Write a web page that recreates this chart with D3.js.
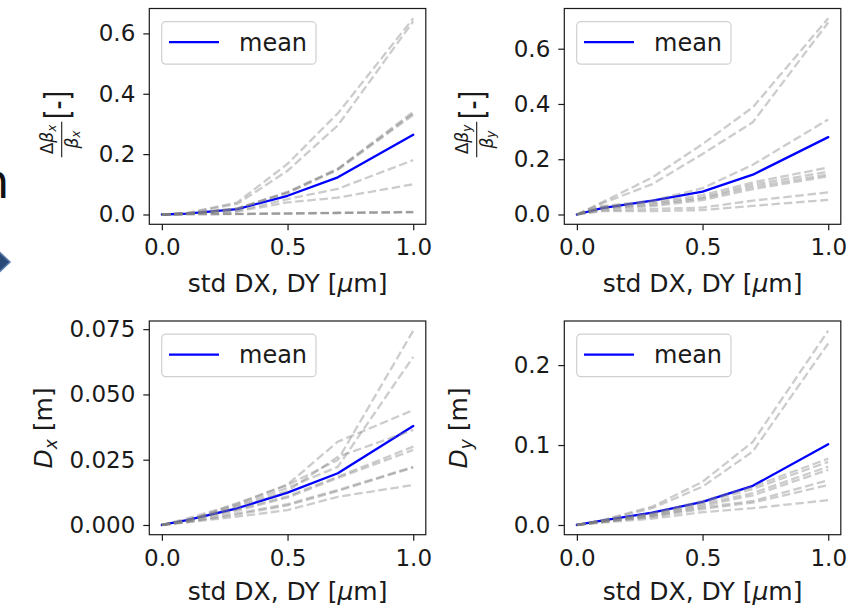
<!DOCTYPE html>
<html>
<head>
<meta charset="utf-8">
<script src="https://cdn.jsdelivr.net/npm/d3@7"></script>
<style>
  body { margin: 0; background: #fff; }
  text { font-family: "DejaVu Sans", sans-serif; fill: #1a1a1a; }
</style>
</head>
<body>
<div id="chart"></div>
<script>
// std of the DX, DY misalignment [um]
const stdX = [0, 0.1, 0.3, 0.5, 0.7, 1.0];

// relative beta beating, horizontal (one row per seed)
const betaXRuns = [
  [0, 0.005, 0.040, 0.168, 0.335, 0.650],
  [0, 0.004, 0.035, 0.145, 0.295, 0.640],
  [0, 0.003, 0.020, 0.075, 0.152, 0.340],
  [0, 0.003, 0.020, 0.073, 0.150, 0.335],
  [0, 0.003, 0.019, 0.071, 0.148, 0.330],
  [0, 0.002, 0.012, 0.051, 0.085, 0.180],
  [0, 0.002, 0.010, 0.040, 0.056, 0.100],
  [0, 0.001, 0.002, 0.004, 0.006, 0.008],
  [0, 0.001, 0.002, 0.003, 0.005, 0.009],
  [0, 0.001, 0.001, 0.003, 0.005, 0.007]
];
const betaXMean = [0, 0.003, 0.018, 0.062, 0.123, 0.264];

// relative beta beating, vertical
const betaYRuns = [
  [0, 0.044, 0.134, 0.255, 0.388, 0.710],
  [0, 0.040, 0.110, 0.219, 0.334, 0.695],
  [0, 0.030, 0.050, 0.095, 0.180, 0.344],
  [0, 0.028, 0.045, 0.070, 0.116, 0.170],
  [0, 0.025, 0.040, 0.062, 0.108, 0.155],
  [0, 0.022, 0.035, 0.058, 0.100, 0.145],
  [0, 0.020, 0.030, 0.052, 0.092, 0.138],
  [0, 0.015, 0.020, 0.025, 0.050, 0.080],
  [0, 0.012, 0.012, 0.016, 0.031, 0.053]
];
const betaYMean = [0, 0.023, 0.050, 0.083, 0.144, 0.280];

// horizontal dispersion [m]
const dispXRuns = [
  [0, 0.0015, 0.0084, 0.0153, 0.0249, 0.0744],
  [0, 0.0014, 0.0075, 0.0142, 0.0223, 0.0644],
  [0, 0.0025, 0.0080, 0.0155, 0.0319, 0.0440],
  [0, 0.0020, 0.0070, 0.0130, 0.0261, 0.0364],
  [0, 0.0018, 0.0060, 0.0110, 0.0185, 0.0300],
  [0, 0.0016, 0.0055, 0.0105, 0.0180, 0.0287],
  [0, 0.0012, 0.0045, 0.0080, 0.0134, 0.0223],
  [0, 0.0011, 0.0040, 0.0075, 0.0130, 0.0220],
  [0, 0.0010, 0.0032, 0.0057, 0.0108, 0.0153]
];
const dispXMean = [0, 0.0019, 0.0064, 0.0124, 0.0198, 0.0379];

// vertical dispersion [m]
const dispYRuns = [
  [0, 0.0060, 0.023, 0.054, 0.104, 0.243],
  [0, 0.0055, 0.021, 0.048, 0.092, 0.227],
  [0, 0.0050, 0.015, 0.030, 0.048, 0.083],
  [0, 0.0050, 0.014, 0.028, 0.045, 0.079],
  [0, 0.0045, 0.013, 0.026, 0.040, 0.073],
  [0, 0.0040, 0.012, 0.024, 0.037, 0.069],
  [0, 0.0040, 0.011, 0.022, 0.030, 0.056],
  [0, 0.0035, 0.010, 0.020, 0.028, 0.050],
  [0, 0.0030, 0.008, 0.016, 0.021, 0.031]
];
const dispYMean = [0, 0.0054, 0.0154, 0.029, 0.049, 0.101];

const xTicks = [0, 0.5, 1.0];
const betaTicks = [0, 0.2, 0.4, 0.6];
const dxTicks = [0, 0.025, 0.05, 0.075];
const dyTicks = [0, 0.1, 0.2];

const W = 853, H = 605;
const svg = d3.select('#chart').append('svg')
    .attr('width', W).attr('height', H);

// bits of the slide that the figure was cut from
svg.append('text').attr('x', -21).attr('y', 198)
   .style('font-size', '48px').style('fill', '#111').text('n');
svg.append('path')
   .attr('d', 'M-6,247 L10,262 L-6,277 Z')
   .attr('fill', '#2c4a78').attr('stroke', '#5b7cae').attr('stroke-width', 1.5);

const panels = [
  {runs: betaXRuns, mean: betaXMean, ticks: betaTicks, fmt: '.1f', col: 0, row: 0, label: 'beta', sub: 'x'},
  {runs: betaYRuns, mean: betaYMean, ticks: betaTicks, fmt: '.1f', col: 1, row: 0, label: 'beta', sub: 'y'},
  {runs: dispXRuns, mean: dispXMean, ticks: dxTicks, fmt: '.3f', col: 0, row: 1, label: 'disp', sub: 'x'},
  {runs: dispYRuns, mean: dispYMean, ticks: dyTicks, fmt: '.1f', col: 1, row: 1, label: 'disp', sub: 'y'}
];

const colLeft = [149.3, 564.3];
const rowTop = [8.5, 321];
const pw = 276.5, ph = [215.8, 213.7];
const xlabelDrop = [67.4, 65.5];

panels.forEach(function(p) {
  const x0 = colLeft[p.col], y0 = rowTop[p.row], h = ph[p.row];
  const g = svg.append('g').attr('transform', 'translate(' + x0 + ',' + y0 + ')');

  // matplotlib style 5% margins
  const all = p.runs.flat().concat(p.mean);
  const lo = d3.min(all), hi = d3.max(all);
  const pad = (hi - lo) * 0.05;

  const xScale = d3.scaleLinear().domain([-0.05, 1.05]).range([0, pw]);
  const yScale = d3.scaleLinear().domain([lo - pad, hi + pad]).range([h, 0]);

  const line = d3.line()
      .x(function(d, i) { return xScale(stdX[i]); })
      .y(function(d) { return yScale(d); });

  g.append('path').datum(p.mean)
   .attr('d', line).attr('fill', 'none')
   .attr('stroke', '#0000ff').attr('stroke-width', 2.3)
   .attr('stroke-linejoin', 'round').attr('stroke-linecap', 'round');

  g.selectAll('.run').data(p.runs).enter().append('path')
   .attr('class', 'run')
   .attr('d', line).attr('fill', 'none')
   .attr('stroke', '#808080').attr('stroke-opacity', 0.4)
   .attr('stroke-width', 2.3).attr('stroke-dasharray', '8.5,3.7');

  // frame
  g.append('rect').attr('width', pw).attr('height', h)
   .attr('fill', 'none').attr('stroke', '#1a1a1a').attr('stroke-width', 1.2);

  const xAxis = d3.axisBottom(xScale).tickValues(xTicks)
      .tickFormat(d3.format('.1f')).tickSize(6).tickPadding(8.5);
  const yAxis = d3.axisLeft(yScale).tickValues(p.ticks)
      .tickFormat(d3.format(p.fmt)).tickSize(6).tickPadding(8);

  const xg = g.append('g').attr('transform', 'translate(0,' + h + ')').call(xAxis);
  const yg = g.append('g').call(yAxis);
  [xg, yg].forEach(function(a) {
    a.select('.domain').remove();
    a.selectAll('line').attr('stroke', '#1a1a1a').attr('stroke-width', 1.2);
    a.selectAll('text').style('font-size', '23px').style('font-family', '"DejaVu Sans", sans-serif')
     .attr('fill', '#1a1a1a');
  });

  // x label
  const xl = g.append('text').attr('x', (xScale(0) + xScale(1)) / 2).attr('y', h + xlabelDrop[p.row])
      .attr('text-anchor', 'middle').style('font-size', '25px');
  xl.append('tspan').text('std DX, DY [');
  xl.append('tspan').style('font-style', 'italic').text('\u03bc');
  xl.append('tspan').text('m]');

  // legend
  const lg = g.append('g').attr('transform', 'translate(12.4,13.2)');
  lg.append('rect').attr('width', 154.3).attr('height', 42.5).attr('rx', 4)
    .attr('fill', '#fff').attr('fill-opacity', 0.8)
    .attr('stroke', '#d0d0d0').attr('stroke-width', 1.2);
  lg.append('line').attr('x1', 7.3).attr('x2', 57.3).attr('y1', 20.5).attr('y2', 20.5)
    .attr('stroke', '#0000ff').attr('stroke-width', 2.3);
  lg.append('text').attr('x', 77.3).attr('y', 29).style('font-size', '24px').text('mean');

  // y label
  if (p.label === 'beta') {
    const yl = svg.append('g')
        .attr('transform', 'translate(' + (x0 - 87.6) + ',139.5) rotate(-90)');
    yl.append('line').attr('x1', -17.8).attr('x2', 17.8).attr('y1', 0).attr('y2', 0)
      .attr('stroke', '#1a1a1a').attr('stroke-width', 1.1);
    const num = yl.append('text').attr('x', 0).attr('y', -8.3)
        .attr('text-anchor', 'middle').style('font-size', '17px');
    num.append('tspan').text('\u0394');
    num.append('tspan').style('font-style', 'italic').text('\u03b2');
    num.append('tspan').style('font-style', 'italic').style('font-size', '12px')
       .attr('dy', 3).text(p.sub);
    const den = yl.append('text').attr('x', 0).attr('y', 15.8)
        .attr('text-anchor', 'middle').style('font-size', '17px');
    den.append('tspan').style('font-style', 'italic').text('\u03b2');
    den.append('tspan').style('font-style', 'italic').style('font-size', '12px')
       .attr('dy', 3).text(p.sub);
    yl.append('text').attr('x', 34.5).attr('y', 5.2)
      .attr('transform', 'scale(1,1.36)')
      .attr('text-anchor', 'middle').style('font-size', '25px').text('[-]');
  } else {
    const yl = svg.append('text')
        .attr('transform', 'translate(' + (x0 - 97.5) + ',' + (y0 + h / 2) + ') rotate(-90)')
        .attr('text-anchor', 'middle').style('font-size', '25px');
    yl.append('tspan').style('font-style', 'italic').text('D');
    yl.append('tspan').style('font-style', 'italic').style('font-size', '17px')
      .attr('dy', 5).text(p.sub);
    yl.append('tspan').attr('dy', -5).text(' [m]');
  }
});
</script>
</body>
</html>
